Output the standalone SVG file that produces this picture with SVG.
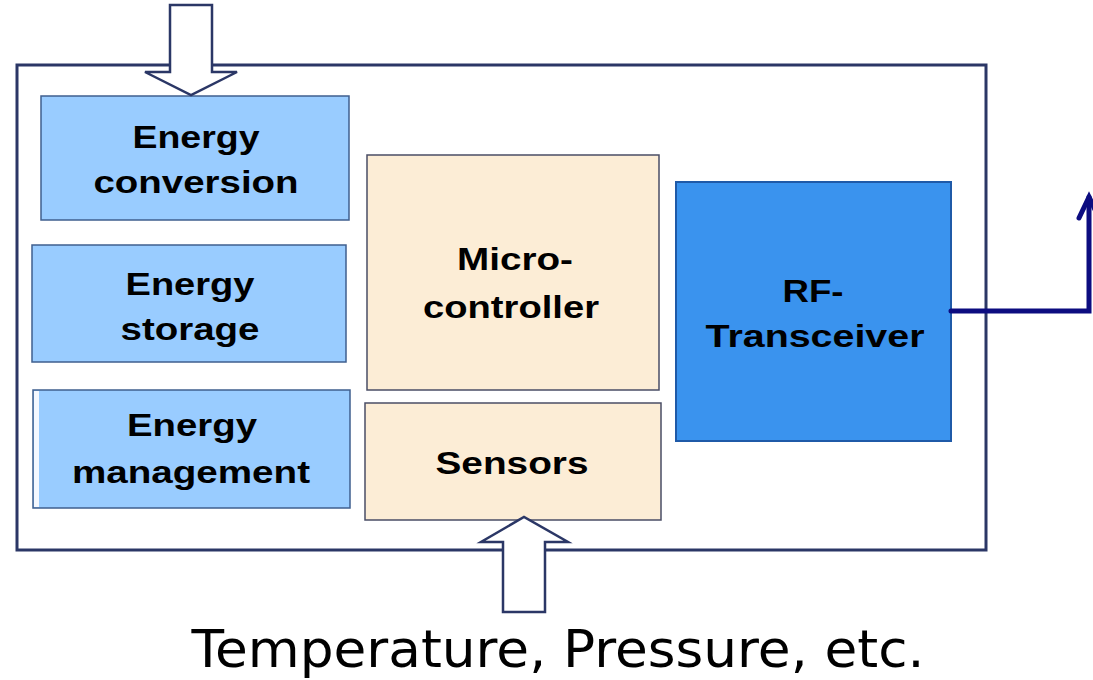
<svg xmlns="http://www.w3.org/2000/svg" width="1093" height="680" viewBox="0 0 1093 680">
<style>
.lbl{font-family:"Liberation Sans",Arial,sans-serif;font-weight:bold;font-size:32px;fill:#000;text-anchor:middle}
.blue{fill:#99ccff;stroke:#3f5f8f;stroke-width:1.5}
.beige{fill:#fcedd6;stroke:#4a4d66;stroke-width:1.5}
.rf{fill:#3a93ee;stroke:#1f5aa8;stroke-width:2}
.frame{fill:#fff;stroke:#2b3766;stroke-width:3}
.bigarrow{fill:#fff;stroke:#2b3766;stroke-width:2.5;stroke-linejoin:miter}
.conn{fill:none;stroke:#0c0c80;stroke-width:5;stroke-linecap:round;stroke-linejoin:miter}
</style>
<rect width="1093" height="680" fill="#fff"/>
<g id="frame"><rect class="frame" x="17" y="65" width="969" height="485"/></g>
<g id="energy-conversion">
<rect class="blue" x="41" y="96" width="308" height="124"/>
<text class="lbl" x="196" y="148" textLength="127" lengthAdjust="spacingAndGlyphs">Energy</text>
<text class="lbl" x="196" y="193" textLength="205" lengthAdjust="spacingAndGlyphs">conversion</text>
</g>
<g id="energy-storage">
<rect class="blue" x="32" y="245" width="314" height="117"/>
<text class="lbl" x="190" y="295" textLength="129" lengthAdjust="spacingAndGlyphs">Energy</text>
<text class="lbl" x="190" y="340" textLength="139" lengthAdjust="spacingAndGlyphs">storage</text>
</g>
<g id="energy-management">
<rect class="blue" x="33" y="390" width="317" height="118"/>
<rect x="34" y="391" width="5" height="116" fill="#f4f8ff"/>
<text class="lbl" x="192" y="436" textLength="130" lengthAdjust="spacingAndGlyphs">Energy</text>
<text class="lbl" x="191" y="483" textLength="238" lengthAdjust="spacingAndGlyphs">management</text>
</g>
<g id="microcontroller">
<rect class="beige" x="367" y="155" width="292" height="235"/>
<text class="lbl" x="515" y="270" textLength="116" lengthAdjust="spacingAndGlyphs">Micro-</text>
<text class="lbl" x="511" y="318" textLength="176" lengthAdjust="spacingAndGlyphs">controller</text>
</g>
<g id="sensors">
<rect class="beige" x="365" y="403" width="296" height="117"/>
<text class="lbl" x="512" y="474" textLength="153" lengthAdjust="spacingAndGlyphs">Sensors</text>
</g>
<g id="rf-transceiver">
<rect class="rf" x="676" y="182" width="275" height="259"/>
<text class="lbl" x="813" y="302" textLength="61" lengthAdjust="spacingAndGlyphs">RF-</text>
<text class="lbl" x="815" y="347" textLength="219" lengthAdjust="spacingAndGlyphs">Transceiver</text>
</g>
<g id="connectors">
<polygon class="bigarrow" points="170,5 212,5 212,72 237,72 191,95 145,72 170,72"/>
<polygon class="bigarrow" points="503,612 545,612 545,542 568,542 524,517 481,542 503,542"/>
<path class="conn" d="M951 311 H1089 V197"/>
<path class="conn" d="M1079 218 L1089 197 L1099 218"/>
</g>
<g id="caption">
<text x="558" y="667" font-family="'DejaVu Sans',Verdana,sans-serif" font-size="52" fill="#000" text-anchor="middle" textLength="733" lengthAdjust="spacingAndGlyphs">Temperature, Pressure, etc.</text>
</g>
</svg>
